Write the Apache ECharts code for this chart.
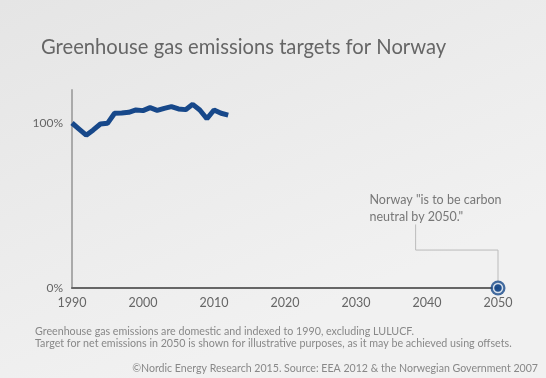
<!DOCTYPE html>
<html><head><meta charset="utf-8">
<script src="https://cdn.jsdelivr.net/npm/echarts@6/dist/echarts.min.js"></script>
<style>html,body{margin:0;padding:0;}#c{width:546px;height:378px;}</style>
</head><body><div id="c"></div>
<script>
const years = [1990,1991,1992,1993,1994,1995,1996,1997,1998,1999,2000,2001,2002,2003,2004,2005,2006,2007,2008,2009,2010,2011,2012];
const emissions = [100,96.3,92.6,95.8,99.4,99.8,105.9,106.1,106.5,107.9,107.5,109.3,107.7,108.9,109.9,108.5,108.1,111.3,107.9,102.6,107.9,105.9,104.8];
const targetYear = [2050];
const targetValue = [0];
const xTicks = [1990,2000,2010,2020,2030,2040,2050];
const yTicks = [0,100];
const calloutPath = [[2038.4,38.5],[2038.4,23],[2050,23],[2050,4]];
const noteText = ['Norway "is to be carbon', 'neutral by 2050."'];
const noteAnchor = [2031.9, 58.5];

const chart = echarts.init(document.getElementById('c'));
const font = 'Lato, "Open Sans", sans-serif';
chart.setOption({
  animation:false,
  backgroundColor:{type:'linear',x:0,y:0,x2:0.3,y2:1,colorStops:[{offset:0,color:'#e5e5e5'},{offset:1,color:'#f1f1f1'}]},
  title:{text:'Greenhouse gas emissions targets for Norway',left:36,top:32,textStyle:{fontFamily:font,fontSize:20.2,fontWeight:'normal',color:'#666'}},
  grid:{left:72,right:48,top:90,bottom:90},
  xAxis:{type:'value',min:1990,max:2050,interval:10,
    axisLine:{show:true,lineStyle:{color:'#666',width:2}},axisTick:{show:false},splitLine:{show:false},
    axisLabel:{color:'#666',fontFamily:font,fontSize:12.5,margin:8,formatter:v=>xTicks.includes(v)?String(v):''}},
  yAxis:{type:'value',min:0,max:120,interval:100,
    axisLine:{show:true,lineStyle:{color:'#aaa',width:2}},axisTick:{show:false},splitLine:{show:false},
    axisLabel:{color:'#666',fontFamily:font,fontSize:12,margin:9,showMaxLabel:false,formatter:v=>yTicks.includes(v)?v+'%':''}},
  series:[
    {type:'line',data:calloutPath,symbol:'none',lineStyle:{color:'#bbb',width:1},z:1,silent:true},
    {type:'line',data:years.map((y,i)=>[y,emissions[i]]),symbol:'none',lineStyle:{color:'#17488a',width:5},z:3},
    {type:'scatter',data:targetYear.map((y,i)=>[y,targetValue[i]]),symbol:'circle',symbolSize:15,itemStyle:{color:'#17488a'},z:4},
    {type:'scatter',data:targetYear.map((y,i)=>[y,targetValue[i]]),symbol:'circle',symbolSize:9,itemStyle:{color:'#17488a',borderColor:'#fff',borderWidth:1.5},z:5}
  ]
});
const p = chart.convertToPixel({gridIndex:0},noteAnchor);
chart.setOption({graphic:[
  {type:'text',left:p[0],top:p[1],style:{text:noteText.join('\n'),fill:'#777',font:'12.5px '+font,lineHeight:17}},
  {type:'text',left:35,top:326,style:{text:'Greenhouse gas emissions are domestic and indexed to 1990, excluding LULUCF.\nTarget for net emissions in 2050 is shown for illustrative purposes, as it may be achieved using offsets.',fill:'#888',font:'10.7px '+font,lineHeight:11.5}},
  {type:'text',right:8,top:363,style:{text:'\u00A9Nordic Energy Research 2015. Source: EEA 2012 & the Norwegian Government 2007',fill:'#888',font:'10.6px '+font}}
]});
</script></body></html>
